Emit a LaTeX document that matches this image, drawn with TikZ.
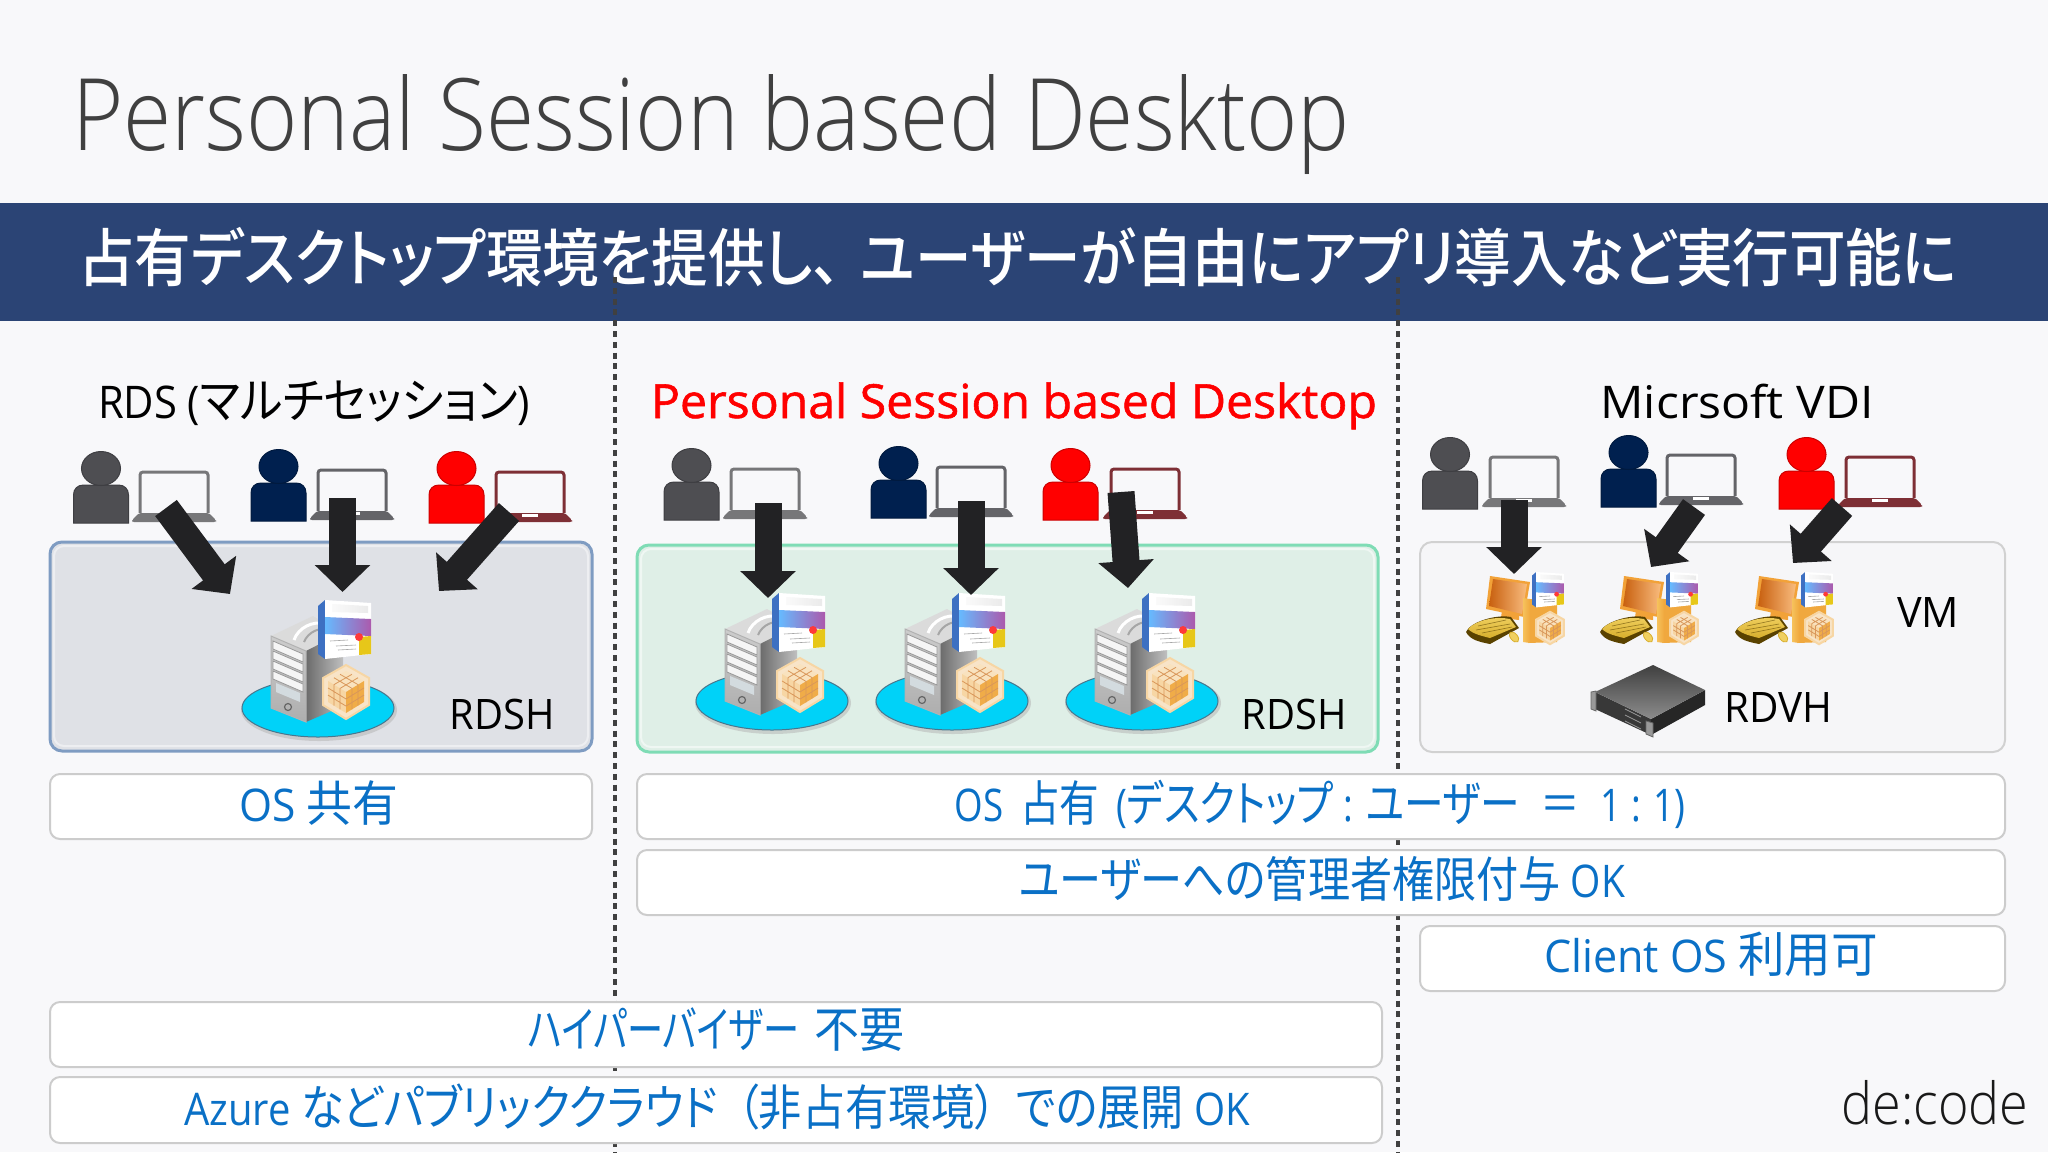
\documentclass[tikz,border=0pt]{standalone}
\usepackage{graphicx}
\usepackage{fontspec}
\usetikzlibrary{arrows.meta,shadings,calc}
\setmainfont{Open Sans}
\newfontfamily\cjk{Noto Sans CJK JP}[RawFeature=+palt,Scale=1.08]
\newfontfamily\cjkb{Noto Sans CJK JP Medium}[RawFeature=+palt]
\newfontfamily\lightf{Open Sans Light}
\newfontfamily\semif{Open Sans}[FakeBold=1.2]
\newcommand\J[1]{{\cjk #1}}
\newsavebox\fwbox
% set #2 and stretch it horizontally to #1 picture pixels
\newcommand\fw[2]{\sbox\fwbox{#2}\pgfmathsetmacro\fwr{#1*0.5/\the\wd\fwbox}\scalebox{\fwr}[1]{\usebox\fwbox}}
\definecolor{bgc}{HTML}{F8F8FA}
\definecolor{banc}{HTML}{2B4475}
\definecolor{txtb}{HTML}{0A70C6}
\definecolor{usergray}{HTML}{4E4E52}
\definecolor{usernavy}{HTML}{00204F}
\definecolor{usered}{HTML}{FF0000}
\definecolor{lapg}{HTML}{777779}
\definecolor{lapn}{HTML}{646468}
\definecolor{lapr}{HTML}{7E2F35}
\definecolor{arrowc}{HTML}{222224}
\definecolor{panela}{HTML}{DFE1E6}
\definecolor{panelab}{HTML}{7F9CC2}
\definecolor{panelb}{HTML}{DFEFE7}
\definecolor{panelbb}{HTML}{7FDCB5}
\definecolor{panelc}{HTML}{F6F6F8}
\definecolor{discc}{HTML}{00D2F8}
\definecolor{cubet}{HTML}{F9E2BE}
\definecolor{cubel}{HTML}{F7D6A4}
\definecolor{cuber}{HTML}{F0AC48}
\definecolor{cubeg}{HTML}{F8E4C8}
\definecolor{cubel2}{HTML}{D9975A}
\definecolor{monA}{HTML}{C8600F}
\definecolor{monB}{HTML}{F9BC7E}
\definecolor{monF}{HTML}{F2A238}
\definecolor{towerA}{HTML}{F6C25C}
\definecolor{towerB}{HTML}{F0A83E}
\definecolor{keyA}{HTML}{5A4200}
\definecolor{keyB}{HTML}{D8AE2C}
\definecolor{keyC}{HTML}{F0D060}
\tikzset{
  label/.style={inner sep=0pt,anchor=base,font=\fontsize{22.5}{26}\selectfont},
  blue label/.style={label,text=txtb},
  head label/.style={inner sep=0pt,anchor=base,font=\fontsize{22.5}{26}\selectfont,text=black},
  tag label/.style={inner sep=0pt,anchor=base,font=\fontsize{21}{26}\selectfont,text=black},
  tbox/.style={draw=black!20,fill=white,line width=1pt,rounded corners=5pt},
  panel/.style={line width=1.5pt,rounded corners=6pt},
  blockarrow/.style={draw=arrowc,line width=13.5pt,-{Triangle[length=13.5pt,width=27pt]}},
  divider/.style={draw=black!75,line width=2pt,dash pattern=on 3pt off 2.4pt},
  pics/user/.style={code={
    \path[fill=#1,draw=#1!80!black,line width=.5pt] (0,0) -- (0,-28) .. controls (0,-34) and (4,-38) .. (10,-38)
       -- (45,-38) .. controls (51,-38) and (55,-34) .. (55,-28) -- (55,0) -- cycle;
    \path[fill=#1,draw=#1!80!black,line width=.5pt] (27.5,-54.5) ellipse[x radius=19.5,y radius=17];
  }},
  pics/laptop/.style={code={
    \path[fill=#1,rounded corners=1pt] (0,-2) -- (7,-9) -- (77,-9) -- (84,-2) -- (84,0) -- (0,0) -- cycle;
    \path[draw=#1,line width=1.5pt,rounded corners=1.5pt] (8,-9) -- (8,-50) -- (76,-50) -- (76,-9);
    \path[fill=white] (34,-8) rectangle (50,-5);
  }},
  pics/softbox/.style={code={
    \path[fill=blue!40!gray!80!cyan] (0,6) -- (7,0) -- (7,59) -- (0,54) -- cycle;
    \path[fill=white] (7,0) -- (53,3) -- (53,54) -- (7,59) -- cycle;
    \path[left color=black!2,right color=black!8] (14,4) -- (50,6) -- (50,13) -- (14,12) -- cycle;
    \path[left color=blue!45!cyan!60,right color=violet!65] (7,17) -- (53,19) -- (53,36) -- (7,34) -- cycle;
    \path[fill=yellow!75!orange!90!black] (41,37) -- (53,36) -- (53,54) -- (41,55) -- cycle;
    \path[fill=red!70!pink] (41,37) circle[radius=4];
    \path[draw=black!35,line width=.3pt] (12,41) -- (30,40) (18,46) -- (38,45) (20,50) -- (38,49);
  }},
  pics/honey/.style={code={
    \path[fill=cubeg,draw=cubel,line width=1pt] (0,-27) -- (23,-14) -- (23,13) -- (0,27) -- (-23,13) -- (-23,-14) -- cycle;
    \path[fill=cubet] (0,-21) -- (18,-11) -- (0,0) -- (-18,-11) -- cycle;
    \path[fill=cubel] (-18,-11) -- (0,0) -- (0,21) -- (-18,10) -- cycle;
    \path[fill=cuber] (18,-11) -- (0,0) -- (0,21) -- (18,10) -- cycle;
    \foreach \t in {.33,.67}{
      \path[draw=cubel2,line width=.4pt]
        ($(-18,-11)!\t!(0,-21)$) -- ($(0,0)!\t!(18,-11)$)
        ($(0,-21)!\t!(18,-11)$) -- ($(-18,-11)!\t!(0,0)$)
        ($(-18,-11)!\t!(-18,10)$) -- ($(0,0)!\t!(0,21)$)
        ($(-18,-11)!\t!(0,0)$) -- ($(-18,10)!\t!(0,21)$)
        ($(0,0)!\t!(0,21)$) -- ($(18,-11)!\t!(18,10)$)
        ($(0,0)!\t!(18,-11)$) -- ($(0,21)!\t!(18,10)$);
    }
  }},
  pics/server/.style={code={
    \path[fill=black!30,opacity=.5] (1,2) ellipse[x radius=78,y radius=31];
    \path[fill=discc,draw=black!50!cyan,line width=.5pt] (0,0) ellipse[x radius=76,y radius=29];
    \begin{scope}
      \clip (-47,-72) -- (-12,-57) -- (25,-75) -- (-5,-92) -- cycle;
      \path[fill=black!14] (-47,-72) -- (-12,-57) -- (25,-75) -- (-5,-92) -- cycle;
      \path[draw=white,line width=1.5pt] (-24,-68) .. controls (-20,-80) and (-5,-88) .. (8,-84);
      \path[draw=black!35,line width=1pt] (-14,-66) .. controls (-10,-76) and (2,-82) .. (14,-78);
    \end{scope}
    \path[left color=black!58,right color=black!25] (-12,-57) -- (25,-76) -- (25,-2) -- (-12,14) -- cycle;
    \path[top color=black!20,bottom color=black!32,draw=black!30,line width=.5pt] (-47,-72) -- (-12,-57) -- (-12,14) -- (-47,0) -- cycle;
    \foreach \d in {0,10,20,30}{
      \path[fill=black!4,draw=black!40,line width=.4pt] (-45,-67+\d) -- (-15,-54+\d) -- (-15,-46+\d) -- (-45,-59+\d) -- cycle;
    }
    \path[fill=cyan!30!black!20] (-42,-25) -- (-18,-15) -- (-18,-6) -- (-42,-16) -- cycle;
    \path[draw=black!60,line width=.6pt] (-30,-1) circle[radius=3.5];
    \pic[scale=1] at (0,-108) {softbox};
    \pic at (28,-16) {honey};
  }},
  pics/vmicon/.style={code={
    \path[fill=monF] (24,4) -- (64,10) -- (58,45) -- (20,37) -- cycle;
    \path[left color=monA,right color=monB] (27,7) -- (61,12) -- (56,42) -- (23,34) -- cycle;
    \path[fill=monF] (36,38) -- (53,42) -- (53,48) -- (35,46) -- cycle;
    \path[fill=keyA] (0,60) .. controls (4,50) and (30,42) .. (45,45) -- (53,56) -- (24,72) .. controls (14,70) and (4,68) .. (0,60) -- cycle;
    \path[top color=keyC,bottom color=keyB] (2,57) .. controls (10,48) and (30,44) .. (44,47) -- (50,55) -- (24,66) .. controls (16,64) and (7,62) .. (2,57) -- cycle;
    \path[draw=keyA,line width=.3pt,opacity=.6] (12,54) -- (40,48) (10,58) -- (44,52) (16,61) -- (46,55);
    \path[fill=keyC,draw=keyB,line width=.4pt,rotate around={-50:(48,65)}] (48,65) ellipse[x radius=6,y radius=3.5];
    \path[fill=towerB] (62,27) -- (91,27) -- (91,70) -- (62,71) -- cycle;
    \path[left color=towerA,right color=towerB] (57,26) -- (64,27) -- (64,71) -- (57,70) -- cycle;
    \pic[scale=.6] at (66,0) {softbox};
    \pic[scale=.6] at (84,56) {honey};
  }},
  pics/rack/.style={code={
    \path[fill=black!78] (-58,27) -- (-2,54) -- (-2,70) -- (-58,44) -- cycle;
    \path[fill=black!85] (-2,54) -- (52,25) -- (52,40) -- (-2,70) -- cycle;
    \path[top color=black!75,bottom color=black!45] (0,0) -- (52,25) -- (-2,54) -- (-58,27) -- cycle;
    \path[fill=black!40,draw=black!60,line width=.4pt] (-62,27) -- (-57,26) -- (-57,46) -- (-62,44) -- cycle;
    \path[fill=black!40,draw=black!60,line width=.4pt] (-7,56) -- (0,58) -- (0,72) -- (-7,69) -- cycle;
    \path[draw=black!40,line width=.4pt] (-28,44) -- (-12,52) (-28,50) -- (-12,58) (-28,56) -- (-12,64);
  }}
}
\begin{document}
\begin{tikzpicture}[x=0.5pt,y=-0.5pt]
\useasboundingbox (0,0) rectangle (2048,1152);
\fill[bgc] (0,0) rectangle (2048,1152);

% banner
\fill[banc] (0,203) rectangle (2048,321);
\node[inner sep=0pt,anchor=base,text=white,font=\fontsize{31.5}{34}\selectfont\cjkb] (banner) at (1017.5,281)
  {\fw{1879}{占有デスクトップ環境を提供し、\hspace{.35em}ユーザーが自由にアプリ導入など実行可能に}};

% title
\node[inner sep=0pt,anchor=base,text=black!75,font=\fontsize{50}{60}\selectfont\lightf] (title) at (711,150)
  {\fw{1278}{Personal Session based Desktop}};

% dividers
\coordinate (d1a) at (614.5,277); \coordinate (d1b) at (614.5,1152);
\coordinate (d2a) at (1398,277);  \coordinate (d2b) at (1398,1152);
\draw[divider] (d1a) -- (d1b);
\draw[divider] (d2a) -- (d2b);

% headings
\node[head label] (h1) at (314,418) {\fw{432}{RDS (\J{マルチセッション})}};
\node[head label,text=red,font=\fontsize{23.5}{26}\selectfont\semif] (h2) at (1014,418) {\fw{726}{Personal Session based Desktop}};
\node[head label] (h3) at (1737,418) {\fw{273}{Micrsoft VDI}};

% panels
\draw[panel,fill=panela,draw=panelab] (50,542) rectangle (592,751);
\draw[draw=white,opacity=.45,line width=1pt,rounded corners=5pt] (54,546) rectangle (588,746);
\draw[panel,fill=panelb,draw=panelbb] (637,545) rectangle (1378,752);
\draw[draw=white,opacity=.5,line width=1pt,rounded corners=5pt] (641,549) rectangle (1374,747);
\draw[line width=1pt,rounded corners=6pt,fill=panelc,draw=black!18] (1420,542) rectangle (2005,752);

% users and laptops
\pic at (73.5,523) {user=usergray};  \pic at (132,522) {laptop=lapg};
\pic at (251,521) {user=usernavy};   \pic at (310,520) {laptop=lapn};
\pic at (429,523) {user=usered};     \pic at (488,522) {laptop=lapr};

\pic at (664,520) {user=usergray};   \pic at (723,519) {laptop=lapg};
\pic at (871,518) {user=usernavy};   \pic at (929,517) {laptop=lapn};
\pic at (1043,520) {user=usered};    \pic at (1103,519) {laptop=lapr};

\pic at (1422.5,509) {user=usergray}; \pic at (1482,507) {laptop=lapg};
\pic at (1601,507) {user=usernavy};   \pic at (1659,505) {laptop=lapn};
\pic at (1779,509) {user=usered};     \pic at (1838,507) {laptop=lapr};

% servers
\pic at (318,708) {server};
\pic at (772,701) {server};
\pic at (952,701) {server};
\pic at (1142,701) {server};

% VMs and host
\pic at (1466,572) {vmicon};
\pic at (1600,572) {vmicon};
\pic at (1735,572) {vmicon};
\pic at (1653,665) {rack};

% tags
\node[tag label] (t1) at (502,729) {\fw{105}{RDSH}};
\node[tag label] (t2) at (1294,729) {\fw{105}{RDSH}};
\node[tag label] (t3) at (1928,627) {\fw{62}{VM}};
\node[tag label] (t4) at (1778,722) {\fw{108}{RDVH}};

% arrows
\coordinate (a1s) at (166,508);  \coordinate (a1t) at (230,594);
\coordinate (a2s) at (342.5,498);\coordinate (a2t) at (342.5,592);
\coordinate (a3s) at (509,512);  \coordinate (a3t) at (439,591);
\coordinate (b1s) at (768,503);  \coordinate (b1t) at (768,598);
\coordinate (b2s) at (971,501);  \coordinate (b2t) at (971,595);
\coordinate (b3s) at (1121,492); \coordinate (b3t) at (1128,588);
\coordinate (c1s) at (1514,500); \coordinate (c1t) at (1514,574);
\coordinate (c2s) at (1694,507); \coordinate (c2t) at (1651,567);
\coordinate (c3s) at (1842,507); \coordinate (c3t) at (1793,563);
\foreach \a in {a1,a2,a3,b1,b2,b3,c1,c2,c3}{ \draw[blockarrow] (\a s) -- (\a t); }

% text boxes
\draw[tbox] (50,774) rectangle (592,839);
\node[blue label] (l1) at (319,821) {\fw{159}{OS \J{共有}}};
\draw[tbox] (637,774) rectangle (2005,839);
\node[blue label] (l2) at (1320,821) {\fw{731}{OS\hspace{.2em} \J{占有}\hspace{.2em} (\J{デスクトップ} : \J{ユーザー}\hspace{.3em} \J{＝}\hspace{.3em} 1 : 1)}};
\draw[tbox] (637,850) rectangle (2005,915);
\node[blue label] (l3) at (1322,897) {\fw{606}{\J{ユーザーへの管理者権限付与} OK}};
\draw[tbox] (1420,926) rectangle (2005,991);
\node[blue label] (l4) at (1711,972) {\fw{334}{Client OS \J{利用可}}};
\draw[tbox] (50,1002) rectangle (1382,1067);
\node[blue label] (l5) at (716,1047) {\fw{271}{\J{ハイパーバイザー}}\hspace{7.5pt}\fw{90}{\J{不要}}};
\draw[tbox] (50,1077) rectangle (1382,1143);
\node[blue label] (l6) at (717,1125) {\fw{1066}{Azure \J{などパブリッククラウド\hspace{.45em}（非占有環境）\hspace{.45em}での展開} OK}};

% logo
\node[inner sep=0pt,anchor=base,text=black!90,font=\fontsize{29}{32}\selectfont\lightf] (logo) at (1935,1124) {\fw{187}{de:code}};
\end{tikzpicture}
\end{document}
